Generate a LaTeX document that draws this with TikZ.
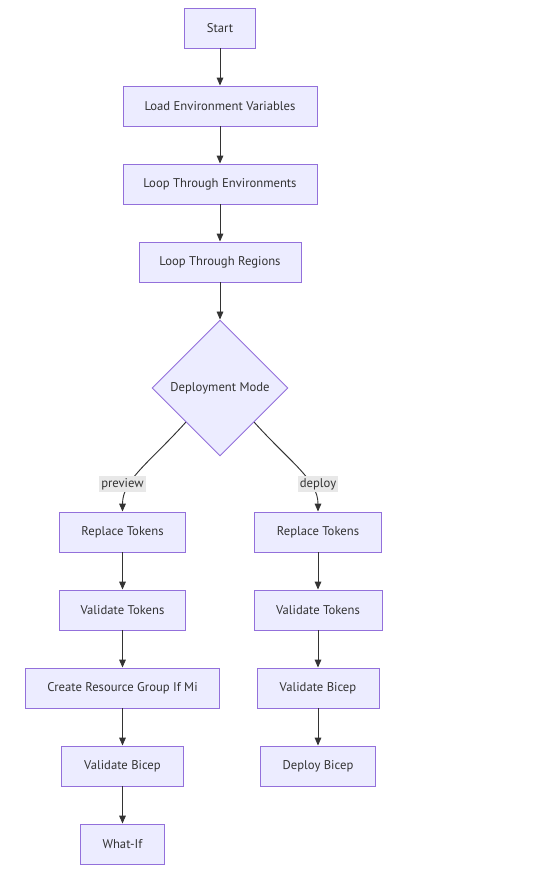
\documentclass[tikz,border=0pt]{standalone}
\usepackage{fontspec}
\setmainfont{PT Sans}
\usetikzlibrary{shapes.geometric,arrows.meta}

\definecolor{nodefill}{HTML}{ECECFF}
\definecolor{nodeline}{HTML}{9370DB}
\definecolor{edgecol}{HTML}{333333}
\definecolor{lblfill}{HTML}{E8E8E8}

\begin{document}
\begin{tikzpicture}[x=0.75pt, y=-0.75pt, >={Triangle[length=6pt,width=5pt]},
    box/.style={draw=nodeline, line width=0.7pt, fill=nodefill, text=edgecol, minimum height=30pt, inner sep=0pt, font=\fontsize{9.5}{11}\selectfont},
    lbl/.style={fill=lblfill, text=edgecol, inner sep=1.5pt, font=\fontsize{9.5}{11}\selectfont},
    arr/.style={->, draw=edgecol, line width=0.7pt}]

    \useasboundingbox (0,0) rectangle (537,875);

    % Tronco principal
    \node[box, minimum width=53pt] (start) at (220,28) {Start};
    \node[box, minimum width=145.5pt] (loadenv) at (220,106) {Load Environment Variables};
    \node[box, minimum width=145.5pt] (loopenv) at (220,184) {Loop Through Environments};
    \node[box, minimum width=121.5pt] (loopreg) at (220,262) {Loop Through Regions};

    % Decisao
    \node[box, diamond, aspect=1, minimum width=102pt, minimum height=102pt] (mode) at (220,388) {Deployment Mode};

    % Ramo preview
    \node[box, minimum width=95pt] (rtprev) at (122.5,532) {Replace Tokens};
    \node[box, minimum width=95pt] (vtprev) at (122.5,610) {Validate Tokens};
    \node[box, minimum width=146pt] (rgprev) at (122.5,688) {Create Resource Group If Mi};
    \node[box, minimum width=91.5pt] (vbprev) at (122.5,766) {Validate Bicep};
    \node[box, minimum width=63.5pt] (whatif) at (122.5,844) {What-If};

    % Ramo deploy
    \node[box, minimum width=95pt] (rtdep) at (318,532) {Replace Tokens};
    \node[box, minimum width=96pt] (vtdep) at (318,610) {Validate Tokens};
    \node[box, minimum width=91.5pt] (vbdep) at (318,688) {Validate Bicep};
    \node[box, minimum width=86pt] (deploy) at (318,766) {Deploy Bicep};

    % Arestas
    \draw[arr] (start) -- (loadenv);
    \draw[arr] (loadenv) -- (loopenv);
    \draw[arr] (loopenv) -- (loopreg);
    \draw[arr] (loopreg) -- (mode);

    % Ramos da decisao (rotulos por cima)
    \draw[arr] (mode.south west) .. controls (150,462) and (122.5,480) .. (rtprev.north);
    \draw[arr] (mode.south east) .. controls (290,462) and (318,480) .. (rtdep.north);
    \node[lbl] (lpreview) at (122.5,484) {preview};
    \node[lbl] (ldeploy) at (318,484) {deploy};

    \draw[arr] (rtprev) -- (vtprev);
    \draw[arr] (vtprev) -- (rgprev);
    \draw[arr] (rgprev) -- (vbprev);
    \draw[arr] (vbprev) -- (whatif);

    \draw[arr] (rtdep) -- (vtdep);
    \draw[arr] (vtdep) -- (vbdep);
    \draw[arr] (vbdep) -- (deploy);

\end{tikzpicture}
\end{document}
